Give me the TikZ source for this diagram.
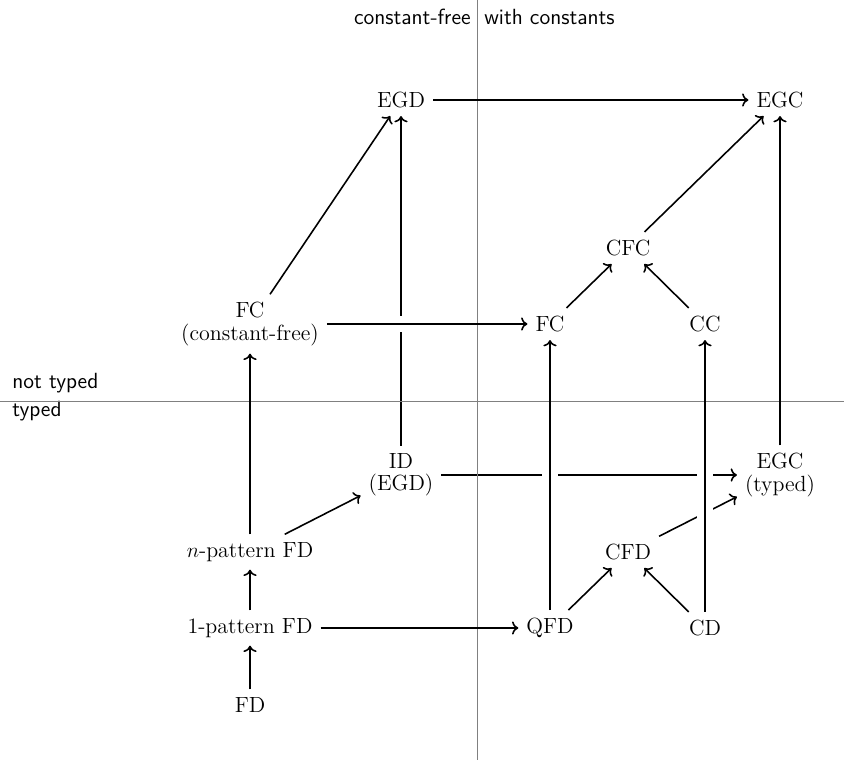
\documentclass[tikz,border=0pt]{standalone}
\usetikzlibrary{arrows.meta}
\begin{document}
\begin{tikzpicture}[x=0.02cm,y=-0.02cm,
  nd/.style={inner sep=4.4pt, align=center, font=\fontsize{12.5}{12.7}\selectfont},
  ed/.style={->, line width=0.9pt},
  gapline/.style={white, line width=9pt},
  ax/.style={gray, line width=0.55pt},
  lab/.style={font=\sffamily\fontsize{12.5}{15}\selectfont, inner sep=0pt}]
\useasboundingbox (0,0) rectangle (844,760);
% nodes
\node[nd] (egd) at (401,100) {EGD};
\node[nd] (egc) at (780,100) {EGC};
\node[nd] (cfc) at (628,248) {CFC};
\node[nd] (fccf) at (250,324) {FC\\(constant-free)};
\node[nd] (fc) at (550,324) {FC};
\node[nd] (cc) at (705,324) {CC};
\node[nd] (id) at (401,475) {ID\\(EGD)};
\node[nd] (egct) at (780,475) {EGC\\(typed)};
\node[nd] (npfd) at (250,552) {$n$-pattern FD};
\node[nd] (cfd) at (628,552) {CFD};
\node[nd] (opfd) at (250,628) {1-pattern FD};
\node[nd] (qfd) at (550,628) {QFD};
\node[nd] (cd) at (705,628) {CD};
\node[nd] (fd) at (250,705) {FD};
% labels
\node[lab, anchor=base east] (lcf) at (471,25) {constant-free};
\node[lab, anchor=base west] (lwc) at (484,25) {with constants};
\node[lab, anchor=base west] (lnt) at (12,388) {not typed};
\node[lab, anchor=base west] (lt) at (12,416.5) {typed};
% edges passing under
\draw[ed] (id) -- (egd);
\draw[ed] (id) -- (egct);
\draw[ed] (cfd) -- (egct);
% gaps
\draw[gapline] (fccf) -- (fc);
\draw[gapline] (qfd) -- (fc);
\draw[gapline] (cd) -- (cc);
% axes
\coordinate (vt) at (477,0);
\coordinate (vb) at (477,760);
\coordinate (hl) at (0,401);
\coordinate (hr) at (844,401);
\draw[ax] (vt) -- (vb);
\draw[ax] (hl) -- (hr);
% other edges
\draw[ed] (egd) -- (egc);
\draw[ed] (fccf) -- (egd);
\draw[ed] (fccf) -- (fc);
\draw[ed] (fc) -- (cfc);
\draw[ed] (cc) -- (cfc);
\draw[ed] (cfc) -- (egc);
\draw[ed] (egct) -- (egc);
\draw[ed] (npfd) -- (fccf);
\draw[ed] (npfd) -- (id);
\draw[ed] (opfd) -- (npfd);
\draw[ed] (fd) -- (opfd);
\draw[ed] (opfd) -- (qfd);
\draw[ed] (qfd) -- (fc);
\draw[ed] (qfd) -- (cfd);
\draw[ed] (cd) -- (cfd);
\draw[ed] (cd) -- (cc);
\end{tikzpicture}
\end{document}
